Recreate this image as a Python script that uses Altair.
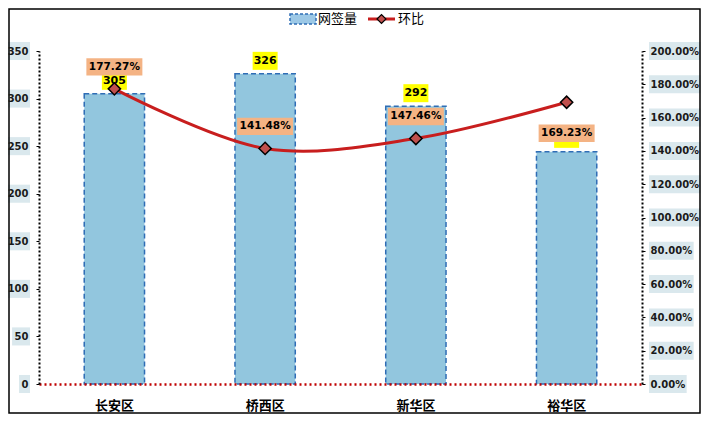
import altair as alt
import pandas as pd

# ---------------- data ----------------
categories = ["长安区", "桥西区", "新华区", "裕华区"]
volume = [305, 326, 292, 244]
ratio = [1.7727, 1.4148, 1.4746, 1.6923]
pct_label_side = ["above", "above", "above", "below"]
left_ticks = [0, 50, 100, 150, 200, 250, 300, 350]
right_ticks = [0.0, 0.2, 0.4, 0.6, 0.8, 1.0, 1.2, 1.4, 1.6, 1.8, 2.0]

# ---------------- layout / style ----------------
W, H = 603, 333
FONT_NUM = "DejaVu Sans"
FONT_CJK = "Noto Sans CJK SC"
BAR_FILL = "#92c6de"
BAR_STROKE = "#2f6db5"
LINE_COLOR = "#c81e1e"
POINT_FILL = "#c0504d"
TICK_BG = "#dae8ed"
YELLOW = "#ffff00"
PEACH = "#f4b384"

df = pd.DataFrame({"区域": categories, "网签量": volume, "环比": ratio, "side": pct_label_side})
df["pct"] = [f"{r*100:.2f}%" for r in ratio]

def text_w(s, fs=10):
    return sum((0.38 if c == "." else 1.0 if c == "%" else 0.696) * fs for c in s)

lt = pd.DataFrame({"v": left_ticks})
lt["lab"] = lt["v"].astype(str)
lt["n"] = lt["lab"].str.len()
lt["lo"] = lt["v"] - 9.5
lt["hi"] = lt["v"] + 9.5

rt = pd.DataFrame({"v": right_ticks})
rt["lab"] = [f"{v*100:.2f}%" for v in right_ticks]
rt["n"] = rt["lab"].str.len()
rt["lo"] = rt["v"] - 0.054
rt["hi"] = rt["v"] + 0.054

x_enc = alt.X(
    "区域:N", sort=categories,
    scale=alt.Scale(paddingInner=0.6, paddingOuter=0.30),
    axis=alt.Axis(title=None, labelAngle=0, ticks=False, labelPadding=15,
                  labelFont=FONT_CJK, labelFontSize=13, labelFontWeight="bold",
                  labelColor="black", domainColor="#c00000", domainDash=[2, 3],
                  domainWidth=2.5, zindex=1),
)

left_axis = alt.Axis(title=None, values=left_ticks, grid=False, domainColor="black",
                     domainDash=[2, 2], domainWidth=2, tickColor="black", tickSize=3,
                     labelPadding=8, labelFont=FONT_NUM, labelFontSize=10,
                     labelFontWeight="bold", labelColor="#1a1a1a", zindex=1)
right_axis = alt.Axis(title=None, values=right_ticks, format=".2%", orient="right",
                      grid=False, domainColor="black", domainDash=[2, 2], domainWidth=2,
                      tickColor="black", tickSize=3, labelPadding=5, labelFont=FONT_NUM,
                      labelFontSize=10, labelFontWeight="bold", labelColor="#1a1a1a",
                      zindex=1)
ls = alt.Scale(domain=[0, 350], nice=False)
rs = alt.Scale(domain=[0, 2], nice=False)

base = alt.Chart(df)

bars = base.mark_bar(fill=BAR_FILL, stroke=BAR_STROKE, strokeDash=[5, 3],
                     strokeWidth=1.5).encode(
    x=x_enc, y=alt.Y("网签量:Q", scale=ls, axis=left_axis))

ybox = base.mark_point(shape="M-1,-0.72H1V0.72H-1Z", size=25 * 25, filled=True,
                       fill=YELLOW, opacity=1, yOffset=-13).encode(
    x=x_enc, y=alt.Y("网签量:Q", scale=ls, axis=left_axis))
ytext = base.mark_text(font=FONT_NUM, fontSize=11, fontWeight="bold", color="black",
                       dy=-13, baseline="middle").encode(
    x=x_enc, y=alt.Y("网签量:Q", scale=ls, axis=left_axis), text="网签量:Q")

left_bg = []
for n, sub in lt.groupby("n"):
    w = text_w(sub["lab"].iloc[0])
    left_bg.append(
        alt.Chart(sub).mark_rect(fill=TICK_BG).encode(
            x=alt.value(-13 - w), x2=alt.value(-9),
            y=alt.Y("lo:Q", scale=ls, axis=left_axis), y2="hi:Q"))

right_bg = []
for n, sub in rt.groupby("n"):
    w = text_w(sub["lab"].iloc[0])
    right_bg.append(
        alt.Chart(sub).mark_rect(fill=TICK_BG).encode(
            x=alt.value(W + 7), x2=alt.value(W + 10 + w),
            y=alt.Y("lo:Q", scale=rs, axis=right_axis), y2="hi:Q"))

line = base.mark_line(color=LINE_COLOR, strokeWidth=3, interpolate="catmull-rom").encode(
    x=x_enc, y=alt.Y("环比:Q", scale=rs, axis=right_axis))
pts = base.mark_point(shape="diamond", size=150, filled=True, fill=POINT_FILL,
                      stroke="black", strokeWidth=1.5, opacity=1).encode(
    x=x_enc, y=alt.Y("环比:Q", scale=rs, axis=right_axis))

pct_layers = []
for side, off in [("above", -22), ("below", 31)]:
    sub = base.transform_filter(alt.datum.side == side)
    pct_layers.append(sub.mark_point(shape="M-1,-0.31H1V0.31H-1Z", size=56 * 56,
                                     filled=True, fill=PEACH, opacity=1, yOffset=off).encode(
        x=x_enc, y=alt.Y("环比:Q", scale=rs, axis=right_axis)))
    pct_layers.append(sub.mark_text(font=FONT_NUM, fontSize=10.5, fontWeight="bold",
                                    color="black", dy=off, baseline="middle").encode(
        x=x_enc, y=alt.Y("环比:Q", scale=rs, axis=right_axis), text="pct:N"))

# legend (decoration)
one = alt.Data(values=[{"k": 1}])
leg_rect = alt.Chart(one).mark_rect(fill="#9cc8e6", stroke=BAR_STROKE, strokeDash=[3, 2],
                                    strokeWidth=1.5).encode(
    x=alt.value(251), x2=alt.value(277), y=alt.value(-37), y2=alt.value(-27))
leg_t1 = alt.Chart(one).mark_text(text="网签量", font=FONT_CJK, fontSize=13, align="left",
                                  baseline="middle", color="black").encode(
    x=alt.value(279), y=alt.value(-32))
leg_line = alt.Chart(one).mark_rule(color=LINE_COLOR, strokeWidth=3).encode(
    x=alt.value(329), x2=alt.value(356), y=alt.value(-32))
leg_pt = alt.Chart(one).mark_point(shape="diamond", size=80, filled=True, fill=POINT_FILL,
                                   stroke="black", strokeWidth=1.2, opacity=1).encode(
    x=alt.value(342.5), y=alt.value(-32))
leg_t2 = alt.Chart(one).mark_text(text="环比", font=FONT_CJK, fontSize=13, align="left",
                                  baseline="middle", color="black").encode(
    x=alt.value(359), y=alt.value(-32))
frame = alt.Chart(one).mark_rect(fill=None, stroke="black", strokeWidth=1.5).encode(
    x=alt.value(-30), x2=alt.value(661), y=alt.value(-42), y2=alt.value(362))

left_layer = alt.layer(*left_bg, bars, ybox, ytext)
right_layer = alt.layer(*right_bg, line, pts, *pct_layers)

chart = alt.layer(
    left_layer, right_layer, frame, leg_rect, leg_t1, leg_line, leg_pt, leg_t2
).resolve_scale(y="independent").properties(
    width=W, height=H,
    autosize=alt.AutoSizeParams(type="none"),
    padding={"left": 31, "top": 43, "right": 59, "bottom": 30},
    background="white",
).configure_view(stroke=None)

chart.save("out.html", embed_options={"renderer": "svg", "actions": False})
